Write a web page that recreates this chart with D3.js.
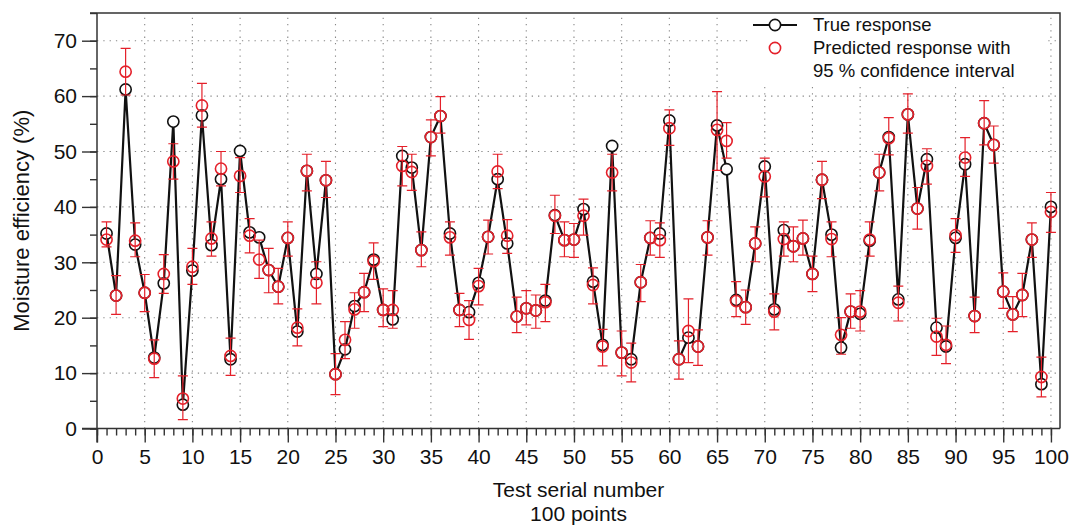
<!DOCTYPE html>
<html>
<head>
<meta charset="utf-8">
<script src="https://cdn.jsdelivr.net/npm/d3@7"></script>
<style>
  html, body { margin: 0; padding: 0; background: #fff; }
  svg { display: block; font-family: "Liberation Sans", Arial, Helvetica, sans-serif; }
</style>
</head>
<body>
<svg id="chart" width="1071" height="528"></svg>
<script>
// ---- data ----
const serial = d3.range(1, 101);
const trueResponse = [35.2,24.0,61.2,33.2,24.5,12.8,26.2,55.4,4.3,28.5,
  56.5,33.1,45.0,12.5,50.1,35.4,34.5,28.6,25.6,34.4,
  17.5,46.5,27.9,44.8,9.8,14.3,22.1,24.6,30.5,21.4,
  19.7,49.2,47.1,32.2,52.6,56.4,35.2,21.4,21.0,26.3,
  34.6,45.0,33.4,20.2,21.7,21.3,23.1,38.5,34.0,34.1,
  39.6,26.5,15.1,51.0,13.7,12.5,26.4,34.4,35.2,55.6,
  12.5,16.4,14.8,34.5,54.7,46.8,23.2,21.9,33.4,47.3,
  21.5,35.8,32.9,34.3,27.9,44.9,35.0,14.6,21.1,20.7,
  33.9,46.2,52.6,23.3,56.7,39.7,48.6,18.2,14.8,34.4,
  47.7,20.3,55.1,51.2,24.7,20.6,24.1,34.1,8.0,40.0];
const predicted = [34.1,24.0,64.4,33.9,24.5,12.6,27.9,48.2,5.4,29.2,
  58.3,34.3,46.9,13.1,45.6,34.8,30.5,28.6,25.6,34.4,
  18.2,46.5,26.3,44.8,9.8,16.0,21.5,24.6,30.2,21.4,
  21.4,47.4,46.3,32.2,52.6,56.4,34.5,21.4,19.6,25.7,
  34.6,46.4,34.8,20.2,21.7,21.3,22.8,38.4,34.0,34.1,
  38.4,25.9,14.8,46.2,13.7,11.9,26.4,34.4,34.0,54.2,
  12.5,17.6,14.8,34.5,53.9,51.9,23.0,21.9,33.4,45.5,
  21.1,34.2,32.9,34.3,27.9,44.9,34.2,16.9,21.1,21.1,
  34.1,46.2,52.4,22.7,56.7,39.7,47.4,16.6,15.1,34.9,
  48.9,20.3,55.1,51.2,24.7,20.6,24.1,34.1,9.3,39.1];
const ciUpper = [37.3,27.6,68.6,37.1,27.8,16.0,31.4,51.4,9.5,32.5,
  62.3,37.3,50.0,16.3,48.9,37.9,34.0,32.5,28.9,37.3,
  21.6,49.5,30.1,48.2,13.5,19.3,24.5,28.0,33.5,25.2,
  24.9,50.9,49.5,35.5,55.7,59.9,37.3,24.4,23.1,28.9,
  37.6,49.5,37.7,23.7,24.9,24.1,26.0,42.1,37.3,37.0,
  41.4,29.0,17.9,49.5,17.6,15.4,29.6,37.5,37.1,57.5,
  15.8,23.4,17.8,37.5,60.8,55.2,26.5,25.0,36.4,48.8,
  24.3,37.3,36.4,37.6,31.1,48.2,37.3,20.0,24.3,24.9,
  37.3,49.5,56.1,25.7,60.4,43.5,50.5,19.9,18.5,37.9,
  52.5,23.7,59.2,54.6,28.1,23.8,28.0,37.1,12.9,42.6];
const ciLower = [32.8,20.6,60.2,31.0,21.1,9.2,24.4,45.0,1.6,26.0,
  54.4,31.1,43.8,9.6,42.6,31.7,27.1,24.5,22.5,31.1,
  14.9,42.9,22.5,41.7,6.1,12.6,18.1,21.1,26.9,18.4,
  18.1,43.8,43.0,29.2,49.2,53.3,31.3,18.4,16.1,22.3,
  31.5,43.3,31.6,17.3,18.7,18.1,19.3,35.2,31.0,30.9,
  34.9,22.5,11.3,42.9,9.5,8.4,22.9,31.3,30.9,51.1,
  8.9,11.9,11.4,31.3,46.6,48.8,20.2,18.8,30.1,41.8,
  17.8,31.1,30.1,31.3,24.7,41.5,31.0,13.4,18.1,17.6,
  31.1,42.9,49.4,19.4,53.3,36.0,44.1,13.2,11.7,31.8,
  45.5,17.3,51.2,47.9,21.7,17.5,20.2,30.9,5.7,35.4];
const xTickValues = [0,5,10,15,20,25,30,35,40,45,50,55,60,65,70,75,80,85,90,95,100];
const yTickValues = [0,10,20,30,40,50,60,70];
const legendLabels = ["True response", "Predicted response with", "95 % confidence interval"];
const xTitle = ["Test serial number", "100 points"];
const yTitle = "Moisture efficiency (%)";

// ---- layout ----
const L = 97, R = 1060, T = 13, B = 428.5;
const RED = "#e4202a", BLACK = "#111";
const svg = d3.select("#chart");
const x = d3.scaleLinear().domain([0, 100.95]).range([L, R]);
const y = d3.scaleLinear().domain([0, 75]).range([B, T]);

// grid
const grid = svg.append("g").attr("stroke", "#888").attr("stroke-width", 1.1)
  .attr("stroke-dasharray", "1.3,5");
grid.selectAll(".gx").data(xTickValues.filter(v => v > 0)).join("line")
  .attr("x1", d => x(d)).attr("x2", d => x(d)).attr("y1", B).attr("y2", T);
grid.selectAll(".gy").data(yTickValues.filter(v => v > 0)).join("line")
  .attr("x1", L).attr("x2", R).attr("y1", d => y(d)).attr("y2", d => y(d));

// frame (top and right)
svg.append("path").attr("d", `M${L - 7},${T}H${R}V${B}`)
  .attr("fill", "none").attr("stroke", "#333").attr("stroke-width", 1.5);

// axes
const xAxisMinor = d3.axisBottom(x).tickValues(d3.range(0, 101)).tickSize(7).tickFormat("");
const xAxisMajor = d3.axisBottom(x).tickValues(xTickValues).tickSize(14).tickPadding(7);
const yAxisMinor = d3.axisLeft(y).tickValues(d3.range(0, 76, 5)).tickSize(7).tickFormat("");
const yAxisMajor = d3.axisLeft(y).tickValues(yTickValues).tickSize(15).tickPadding(5);

function styleAxis(g) {
  g.select(".domain").remove();
  g.selectAll("line").attr("stroke", "#333").attr("stroke-width", 1.4);
  g.selectAll("text").attr("fill", "#111").style("font-size", "21px")
    .style("font-family", '"Liberation Sans", Arial, Helvetica, sans-serif');
}
svg.append("g").attr("transform", `translate(0,${B})`).call(xAxisMinor).call(styleAxis);
svg.append("g").attr("transform", `translate(0,${B})`).call(xAxisMajor).call(styleAxis);
svg.append("g").attr("transform", `translate(${L},0)`).call(yAxisMinor).call(styleAxis);
svg.append("g").attr("transform", `translate(${L},0)`).call(yAxisMajor).call(styleAxis);
// axis lines
svg.append("line").attr("x1", L - 15).attr("x2", R).attr("y1", B).attr("y2", B)
  .attr("stroke", "#333").attr("stroke-width", 1.5);
svg.append("line").attr("x1", L).attr("x2", L).attr("y1", T).attr("y2", B + 14)
  .attr("stroke", "#333").attr("stroke-width", 1.5);

// titles
svg.append("text").attr("x", (L + R) / 2).attr("y", 497).attr("text-anchor", "middle")
  .style("font-size", "21px").attr("fill", "#111").text(xTitle[0]);
svg.append("text").attr("x", (L + R) / 2).attr("y", 521).attr("text-anchor", "middle")
  .style("font-size", "21px").attr("fill", "#111").text(xTitle[1]);
svg.append("text").attr("transform", `translate(29,${(T + B) / 2}) rotate(-90)`)
  .attr("text-anchor", "middle").style("font-size", "22px").attr("fill", "#111").text(yTitle);

// data
const pts = serial.map((s, i) => ({ s, t: trueResponse[i], p: predicted[i], lo: ciLower[i], hi: ciUpper[i] }));

const line = d3.line().x(d => x(d.s)).y(d => y(d.t));
svg.append("path").datum(pts).attr("d", line).attr("fill", "none")
  .attr("stroke", BLACK).attr("stroke-width", 2.2).attr("stroke-linejoin", "round");

svg.append("g").selectAll("circle").data(pts).join("circle")
  .attr("cx", d => x(d.s)).attr("cy", d => y(d.t)).attr("r", 5.6)
  .attr("fill", "#fff").attr("stroke", BLACK).attr("stroke-width", 1.6);

const eb = svg.append("g").attr("stroke", RED).attr("stroke-width", 1.2).attr("fill", "none");
eb.selectAll("path").data(pts).join("path")
  .attr("d", d => {
    const cx = x(d.s), y1 = y(d.hi), y2 = y(d.lo), w = 5;
    return `M${cx - w},${y1}H${cx + w}M${cx},${y1}V${y2}M${cx - w},${y2}H${cx + w}`;
  });

svg.append("g").selectAll("circle").data(pts).join("circle")
  .attr("cx", d => x(d.s)).attr("cy", d => y(d.p)).attr("r", 5.6)
  .attr("fill", "none").attr("stroke", RED).attr("stroke-width", 1.6);

// legend
const lg = svg.append("g");
lg.append("rect").attr("x", 748).attr("y", 15).attr("width", 300).attr("height", 68).attr("fill", "#fff");
lg.append("line").attr("x1", 753).attr("x2", 797).attr("y1", 25).attr("y2", 25)
  .attr("stroke", BLACK).attr("stroke-width", 2);
lg.append("circle").attr("cx", 775).attr("cy", 25).attr("r", 5.6)
  .attr("fill", "#fff").attr("stroke", BLACK).attr("stroke-width", 1.6);
lg.append("circle").attr("cx", 775).attr("cy", 48).attr("r", 5.6)
  .attr("fill", "none").attr("stroke", RED).attr("stroke-width", 1.6);
lg.selectAll("text").data(legendLabels).join("text")
  .attr("x", 813).attr("y", (d, i) => [25, 48, 71][i]).attr("dy", "0.35em")
  .style("font-size", "18.5px").attr("fill", "#111").text(d => d);
</script>
</body>
</html>
